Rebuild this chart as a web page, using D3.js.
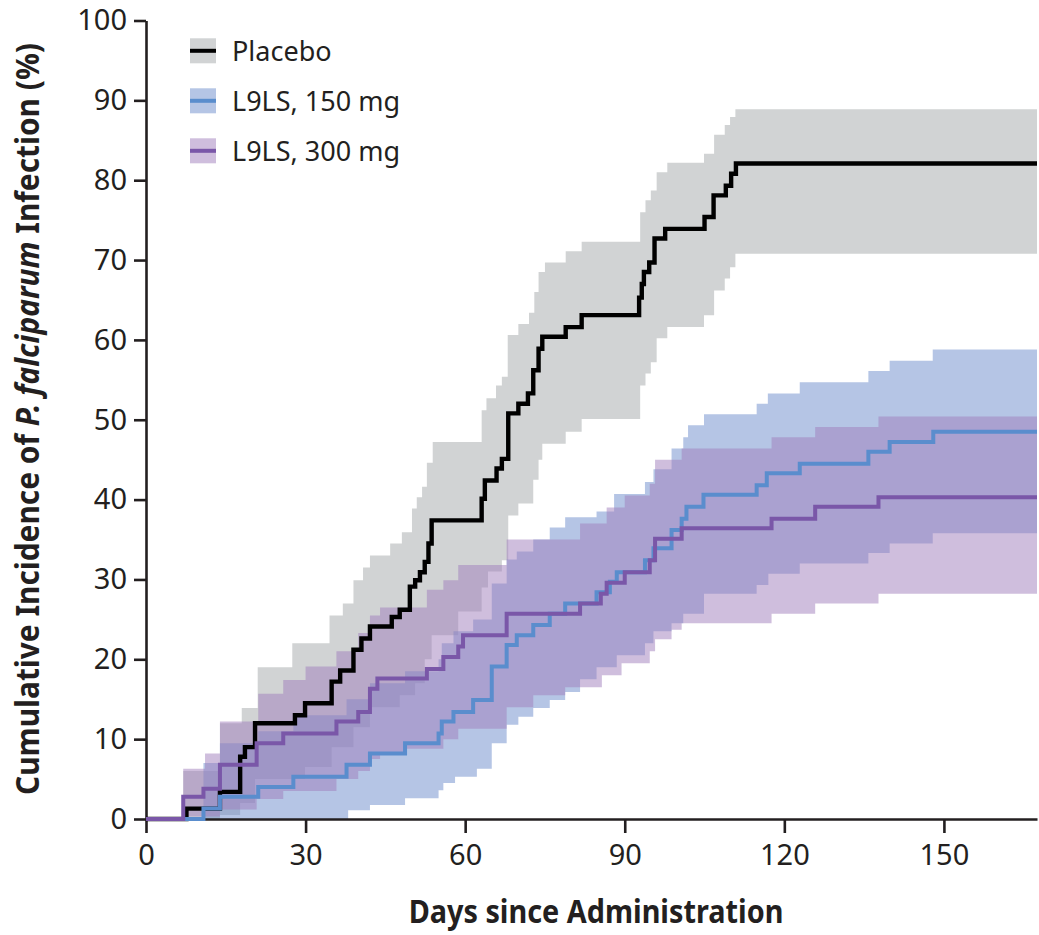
<!DOCTYPE html>
<html>
<head>
<meta charset="utf-8">
<script src="https://cdn.jsdelivr.net/npm/d3@7"></script>
<style>
	body { margin: 0; background: #fff; }
	svg { display: block; }
	text { font-family: "Noto Sans", sans-serif; fill: #231f20; }
</style>
</head>
<body>
<svg id="chart" width="1039" height="935"></svg>
<script>
// Kaplan-Meier style step data, [day, cumulative incidence %]
var placebo = [[0,0],[7.6,1.3],[13.9,3.4],[17.7,7.8],[18.6,9.0],[20.5,12.0],[28,13.0],[29.9,14.5],[34.9,17.2],[36.5,18.6],[39,21.2],[40.5,22.6],[42.1,24.1],[46.2,25.3],[47.7,26.2],[49.6,29.1],[50.6,29.9],[51.5,30.9],[52.4,32.2],[53.1,34.5],[53.7,37.4],[63.1,40.1],[63.7,42.4],[65.9,43.9],[66.9,45.1],[68.1,50.8],[70.0,52.0],[71.8,53.3],[72.8,56.2],[73.8,58.9],[74.5,60.4],[78.9,61.6],[81.9,63.1],[92.7,65.3],[93.2,67.0],[93.6,68.5],[94.6,69.7],[95.6,72.7],[97.6,73.9],[105,75.4],[106.7,78.1],[109,79.3],[110,80.8],[110.9,82.1]];
var placeboHigh = [[0,0],[7,6],[13.9,12],[18,13.9],[21,19],[27.5,22],[34.5,25.5],[37,27],[39,29.9],[40.8,31.5],[42.1,33],[45.9,34.5],[48.1,35.9],[50,38.9],[50.9,40.3],[51.9,41.6],[52.8,44.6],[53.9,47.2],[63.1,51.2],[64,52.7],[65.8,54.3],[66.9,55.4],[68,60.6],[70,62],[72,63.4],[73,66],[73.8,68.5],[75,69.7],[78.9,71.1],[81.9,72.3],[92.9,76],[93.9,77.5],[94.9,78.7],[96,81],[98,82.2],[104.9,83.3],[106.8,85.7],[108.8,86.9],[109.8,87.9],[110.8,88.9]];
var placeboLow = [[0,0],[13.9,0.5],[17.7,2],[20.5,5],[29.9,6.5],[34.9,9],[39,11.5],[42.1,14],[47.7,15.5],[50.6,17],[52.4,20],[53.7,23],[58.7,26],[63.1,29],[64.3,31],[66.9,32.4],[68.1,38],[70,39.5],[72.8,42.5],[73.8,45],[74.5,47],[78.9,48.5],[81.9,50.1],[92.9,54.3],[93.9,55.8],[94.9,57.2],[96,60.2],[98,61.6],[104.9,63.1],[106.8,66.2],[108.8,67.7],[109.8,69.1],[110.8,70.8]];

var dose150 = [[0,0],[10.8,1.3],[13.9,2.8],[21.1,4.0],[27.7,5.3],[37.7,6.8],[42.1,8.2],[48.7,9.5],[55,10.7],[55.6,12.2],[57.8,13.4],[61.5,14.9],[65,19.1],[67.8,21.8],[69.7,23.0],[72.8,24.3],[75.9,25.7],[78.8,27.0],[84.7,28.4],[87.2,29.7],[88.5,30.9],[93.8,32.4],[95.4,33.9],[98.8,36.2],[100.7,37.6],[101.6,39.1],[104.8,40.6],[114.8,41.8],[116.7,43.3],[122.9,44.5],[135.8,46.0],[139.8,47.2],[148,48.5]];
var dose150High = [[0,0],[10.8,7],[13.9,9.5],[21.1,11],[27.7,13],[37.7,15],[42.1,17],[48.7,18.5],[55,20],[55.6,22],[57.8,23.5],[61.5,25],[65,29.5],[67.8,32.5],[69.7,33.5],[72.8,35],[75.9,36.5],[78.8,37.8],[84.7,38.5],[88,40.7],[93.8,42.2],[95.4,43.8],[98.8,46.4],[101,47.8],[101.9,49.3],[104.9,50.7],[114.8,52.0],[116.9,53.3],[122.9,54.7],[135.8,56.1],[139.8,57.4],[147.9,58.8]];
var dose150Low = [[0,0],[38,1.1],[42.1,1.75],[48.7,2.6],[55,3.6],[55.9,4.5],[58.1,5.3],[62.2,6.3],[65,9.5],[67.8,11.8],[70,12.8],[72.8,13.9],[75.9,14.9],[78.8,15.9],[81.6,17.5],[84.7,19],[88.5,20.5],[93.8,22],[95.4,23.5],[98.8,24.5],[101,25.7],[104.9,28.2],[114.8,29.3],[117,30.7],[122.9,32.0],[135.8,33.3],[139.8,34.5],[147.9,35.8]];

var dose300 = [[0,0],[7.0,2.8],[10.8,3.8],[13.9,6.8],[20.8,9.5],[25.8,10.7],[35.8,12.2],[39.9,13.4],[42.1,16.3],[43.5,17.6],[52.8,18.8],[55.9,20.3],[58.7,21.6],[59.6,23.0],[67.8,25.7],[81.6,27.0],[85.5,28.2],[86.6,29.6],[90.0,30.9],[94.7,32.4],[95.7,35.1],[100.7,36.4],[117.6,37.6],[125.8,39.1],[137.7,40.3]];
var dose300High = [[0,0],[7,6.3],[11.1,8.2],[13.9,12.2],[21.1,15.7],[25.8,17.4],[30,19.1],[35.8,21],[39.9,23.3],[42.1,25.5],[44,26.5],[52.8,28.7],[55.9,29.9],[58.7,31.8],[67.8,35],[81.6,37],[86.6,39],[90,40.5],[94.7,42],[95.7,45],[100.7,46.4],[117.6,47.8],[125.8,49.1],[137.7,50.4]];
var dose300Low = [[0,0],[7,0.3],[13.9,1.2],[20.8,2.5],[25.8,3.5],[35.8,5],[39.9,6],[42.1,7.5],[44,8],[48.7,8.8],[55.9,10],[58.7,11.3],[67.8,14],[72.8,15.5],[78.8,16.5],[85.7,18],[89.4,19.5],[94.7,21],[95.7,22.5],[98.8,23.7],[100.7,24.5],[117.6,25.7],[125.8,27.0],[137.7,28.2]];

var legendLabels = ['Placebo', 'L9LS, 150 mg', 'L9LS, 300 mg'];
var xTicks = [0, 30, 60, 90, 120, 150];
var yTicks = [0, 10, 20, 30, 40, 50, 60, 70, 80, 90, 100];
var lastDay = 167.5;

var svg = d3.select('#chart');
var x = d3.scaleLinear().domain([0, lastDay]).range([146, 1037]);
var y = d3.scaleLinear().domain([0, 100]).range([819, 20.5]);

// group styles: band fill drawn at half opacity, line colour
var groups = [
	{ line: placebo, low: placeboLow, high: placeboHigh, band: '#d1d3d4', bandOpacity: 1, stroke: '#000', width: 4.4 },
	{ line: dose150, low: dose150Low, high: dose150High, band: '#6b8bcb', bandOpacity: 0.5, stroke: '#5a8dcd', width: 4 },
	{ line: dose300, low: dose300Low, high: dose300High, band: '#9f7dbb', bandOpacity: 0.5, stroke: '#7a57a8', width: 4 }
];

// value of a step function at a given day
function stepAt(pts, d) {
	var v = pts[0][1];
	pts.forEach(p => { if (p[0] <= d) v = p[1]; });
	return v;
}

// merge low/high breakpoints into one band
function bandRows(low, high) {
	var days = Array.from(new Set(low.map(p => p[0]).concat(high.map(p => p[0])))).sort((a, b) => a - b);
	days.push(lastDay);
	return days.map(d => ({ d: d, lo: stepAt(low, d), hi: stepAt(high, d) }));
}

var area = d3.area().curve(d3.curveStepAfter)
	.x(r => x(r.d)).y0(r => y(r.lo)).y1(r => y(r.hi));
var line = d3.line().curve(d3.curveStepAfter)
	.x(p => x(p[0])).y(p => y(p[1]));

// Confidence bands
groups.forEach(g => {
	svg.append('path').datum(bandRows(g.low, g.high))
		.attr('d', area).attr('fill', g.band).attr('fill-opacity', g.bandOpacity);
});

// Axes
var xAxis = svg.append('g').attr('transform', 'translate(0,819)')
	.call(d3.axisBottom(x).tickValues(xTicks).tickSize(14).tickSizeOuter(0).tickPadding(11));
var yAxis = svg.append('g').attr('transform', 'translate(146,0)')
	.call(d3.axisLeft(y).tickValues(yTicks).tickSize(12).tickSizeOuter(0).tickPadding(7));
[xAxis, yAxis].forEach(a => {
	a.select('.domain').attr('stroke', '#231f20').attr('stroke-width', 2.6);
	a.selectAll('.tick line').attr('stroke', '#231f20').attr('stroke-width', 2.6);
	a.selectAll('.tick text').attr('fill', '#231f20').style('font-size', '29px')
		.style('font-family', '"Noto Sans", sans-serif');
});

// Step lines: placebo underneath, then 150 mg, then 300 mg
groups.forEach(g => {
	var pts = g.line.concat([[lastDay, g.line[g.line.length - 1][1]]]);
	svg.append('path').datum(pts).attr('d', line)
		.attr('fill', 'none').attr('stroke', g.stroke).attr('stroke-width', g.width)
		.attr('stroke-linejoin', 'miter');
});

// Legend
var legend = svg.append('g');
legendLabels.forEach((label, i) => {
	var cy = 50.8 + i * 50;
	var g = groups[i];
	legend.append('rect').attr('x', 190).attr('y', cy - 12.5).attr('width', 26).attr('height', 25)
		.attr('fill', g.band).attr('fill-opacity', g.bandOpacity);
	legend.append('line').attr('x1', 190).attr('x2', 216).attr('y1', cy).attr('y2', cy)
		.attr('stroke', g.stroke).attr('stroke-width', 4);
	legend.append('text').attr('x', 232).attr('y', cy + 10).style('font-size', '27px').text(label);
});

// Squeeze a title to a measured width
function fitWidth(t, target, cx, cy, rotate) {
	var len = t.node().getComputedTextLength();
	t.attr('transform', 'translate(' + cx + ',' + cy + ')' + (rotate ? ' rotate(-90)' : '') + ' scale(' + (target / len) + ',1)');
}

var xTitle = svg.append('text').attr('text-anchor', 'middle')
	.style('font-size', '32px').style('font-weight', 'bold').text('Days since Administration');
fitWidth(xTitle, 375, 596, 923, false);

var yTitle = svg.append('text').attr('text-anchor', 'middle')
	.style('font-size', '32px').style('font-weight', 'bold');
yTitle.append('tspan').text('Cumulative Incidence of ');
yTitle.append('tspan').style('font-style', 'italic').text('P. falciparum');
yTitle.append('tspan').text(' Infection (%)');
fitWidth(yTitle, 752, 39, 419, true);
</script>
</body>
</html>
